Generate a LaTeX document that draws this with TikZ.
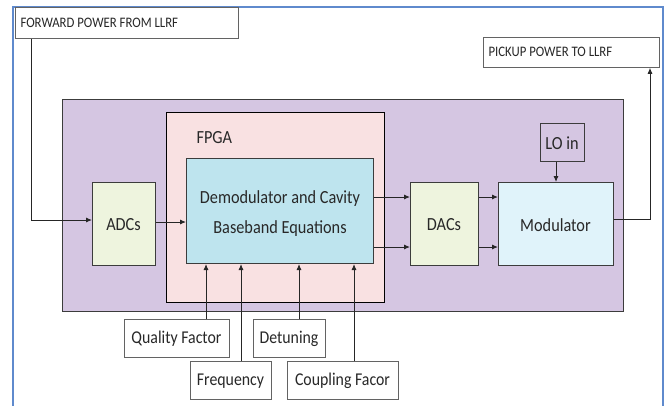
\documentclass[tikz,border=0pt]{standalone}
\usepackage{fontspec}
\setmainfont[FakeStretch=0.88]{Carlito}
\usetikzlibrary{arrows.meta}
\definecolor{frameblue}{RGB}{95,138,205}
\definecolor{boardfill}{RGB}{213,198,226}
\definecolor{fpgafill}{RGB}{249,225,226}
\definecolor{demodfill}{RGB}{190,228,238}
\definecolor{convfill}{RGB}{238,244,222}
\definecolor{modfill}{RGB}{224,243,250}
\definecolor{edge}{RGB}{60,60,60}
\definecolor{ink}{RGB}{40,40,40}
\tikzset{
  blk/.style={draw=edge, line width=1pt, inner sep=0pt, anchor=north west},
  lbl/.style={blk, fill=white, draw=edge!80, line width=0.8pt},
  big/.style={text=ink, font=\fontsize{18.5}{30}\selectfont, align=center},
  small/.style={text=ink, font=\fontsize{18}{20}\selectfont},
  caps/.style={text=ink, font=\fontsize{14.5}{16}\selectfont, anchor=west},
  sig/.style={draw=black!85, line width=0.9pt, -{Latex[length=6pt,width=5pt]}},
}
\begin{document}
\begin{tikzpicture}[x=1pt,y=-1pt]
\useasboundingbox (0,0) rectangle (670,405);
\fill[white] (0,0) rectangle (670,405);
% outer page frame, open at the bottom
\draw[frameblue, line width=1.6pt] (13,410) -- (13,7) -- (663,7) -- (663,410);

% input / output labels
\node[lbl, minimum width=223pt, minimum height=31pt] (fwd) at (15,7) {};
\node[caps] at (17,23) {FORWARD POWER FROM LLRF};
\node[lbl, minimum width=176pt, minimum height=30pt] (pick) at (483,37) {};
\node[caps] at (485,52) {PICKUP POWER TO LLRF};

% board and FPGA
\node[blk, fill=boardfill, minimum width=561pt, minimum height=212pt] (board) at (62,99) {};
\node[blk, fill=fpgafill, draw=black, line width=1.4pt, minimum width=218pt, minimum height=190pt] (fpga) at (166,112) {};
\node[big, anchor=west] (fpgat) at (193,138) {FPGA};

% processing blocks
\node[blk, fill=demodfill, minimum width=187pt, minimum height=105pt] (demod) at (186,158) {};
\node[big] at (280,214) {Demodulator and Cavity\\Baseband Equations};
\node[blk, fill=convfill, minimum width=63pt, minimum height=83pt] (adc) at (92,182) {};
\node[big] at (123.5,225) {ADCs};
\node[blk, fill=convfill, minimum width=68pt, minimum height=83pt] (dac) at (410,182) {};
\node[big] at (444,225) {DACs};
\node[blk, fill=modfill, minimum width=115pt, minimum height=83pt] (mod) at (498,182) {};
\node[big] at (555.5,225) {Modulator};
\node[blk, fill=boardfill, minimum width=44pt, minimum height=38pt] (lo) at (540,123) {};
\node[big] at (562,143) {LO in};

% parameter inputs
\node[lbl, minimum width=105pt, minimum height=38pt] (qf) at (124,319) {};
\node[small] at (176.5,339) {Quality Factor};
\node[lbl, minimum width=81pt, minimum height=38pt] (freq) at (190,361) {};
\node[small] at (230.5,381) {Frequency};
\node[lbl, minimum width=72pt, minimum height=38pt] (det) at (253,319) {};
\node[small] at (289,339) {Detuning};
\node[lbl, minimum width=111pt, minimum height=38pt] (cpl) at (287,361) {};
\node[small] at (342.5,381) {Coupling Facor};

% signal path
\draw[sig] (fwd.south west -| 31,0) |- (adc.west |- 0,220);
\draw[sig] (adc.east |- 0,222) -- (demod.west |- 0,222);
\draw[sig] (demod.east |- 0,197) -- (dac.west |- 0,197);
\draw[sig] (demod.east |- 0,247) -- (dac.west |- 0,247);
\draw[sig] (dac.east |- 0,197) -- (mod.west |- 0,197);
\draw[sig] (dac.east |- 0,247) -- (mod.west |- 0,247);
\draw[sig] (lo.south -| 556,0) -- (mod.north -| 556,0);
\draw[sig] (mod.east |- 0,219) -| (pick.south -| 650,0);

% parameter connections
\draw[sig] (qf.north -| 206,0) -- (demod.south -| 206,0);
\draw[sig] (freq.north -| 241,0) -- (demod.south -| 241,0);
\draw[sig] (det.north -| 299,0) -- (demod.south -| 299,0);
\draw[sig] (cpl.north -| 354,0) -- (demod.south -| 354,0);
\end{tikzpicture}
\end{document}
